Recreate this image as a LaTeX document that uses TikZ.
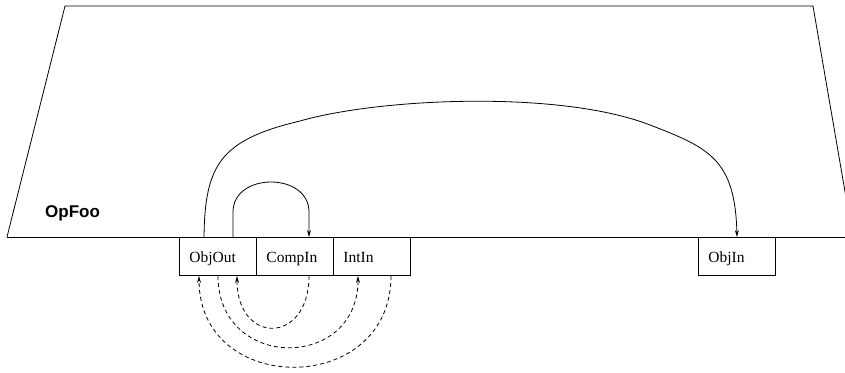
\documentclass[tikz,border=0pt]{standalone}
\usepackage{fontspec}
\setmainfont{Liberation Serif}
\newfontfamily\opfont{Liberation Sans}
\usetikzlibrary{arrows.meta,calc}
\tikzset{
  port/.style={draw, line width=0.9pt, minimum width=77pt, minimum height=38pt,
    anchor=north west, align=left, inner xsep=10pt, text width=57pt,
    text height=14pt, text depth=2pt,
    font=\fontsize{15.5}{18}\selectfont},
  flow/.style={line width=0.8pt, -{Stealth[length=7pt,width=4pt]}},
  dep/.style={line width=0.8pt, dash pattern=on 4pt off 3pt, -{Stealth[length=7pt,width=4pt]}},
  edge/.style={line width=0.8pt}
}
\begin{document}
\begin{tikzpicture}[x=1pt,y=-1pt]
\useasboundingbox (0,0) rectangle (845,372);
\clip (0,0) rectangle (845,372);
\draw[edge] (7,237) -- (65,6) -- (813,6) -- (853,238);
\draw[edge] (7,237) -- (850,237);
\node[anchor=base west, font=\opfont\bfseries\fontsize{17}{20}\selectfont, inner sep=0pt] (opfoo) at (45,217) {OpFoo};
\node[port] (objout) at (179,237) {ObjOut};
\node[port] (compin) at (256,237) {CompIn};
\node[port] (intin) at (333,237) {IntIn};
\node[port] (objin) at (698,237) {ObjIn};
% solid connectors
\draw[flow] ($(objout.north west)+(25,0)$) .. controls (205,165) and (220,140) .. (300,121)
  .. controls (380,98) and (560,90) .. (650,125)
  .. controls (710,148) and (735,160) .. ($(objin.north west)+(39,0)$);
\draw[flow] ($(objout.north west)+(54,0)$) -- (233,212) .. controls (233,172) and (309,172) .. (309,212) -- ($(compin.north west)+(53,0)$);
% dashed connectors
\draw[dep] ($(compin.south west)+(53,0)$) .. controls (309,345) and (237,345) .. ($(objout.south west)+(58,0)$);
\draw[dep] ($(objout.south west)+(39,0)$) .. controls (218,371) and (358,371) .. ($(intin.south west)+(25,0)$);
\draw[dep] ($(intin.south west)+(58,0)$) .. controls (391,397) and (199,397) .. ($(objout.south west)+(20,0)$);
\end{tikzpicture}
\end{document}
